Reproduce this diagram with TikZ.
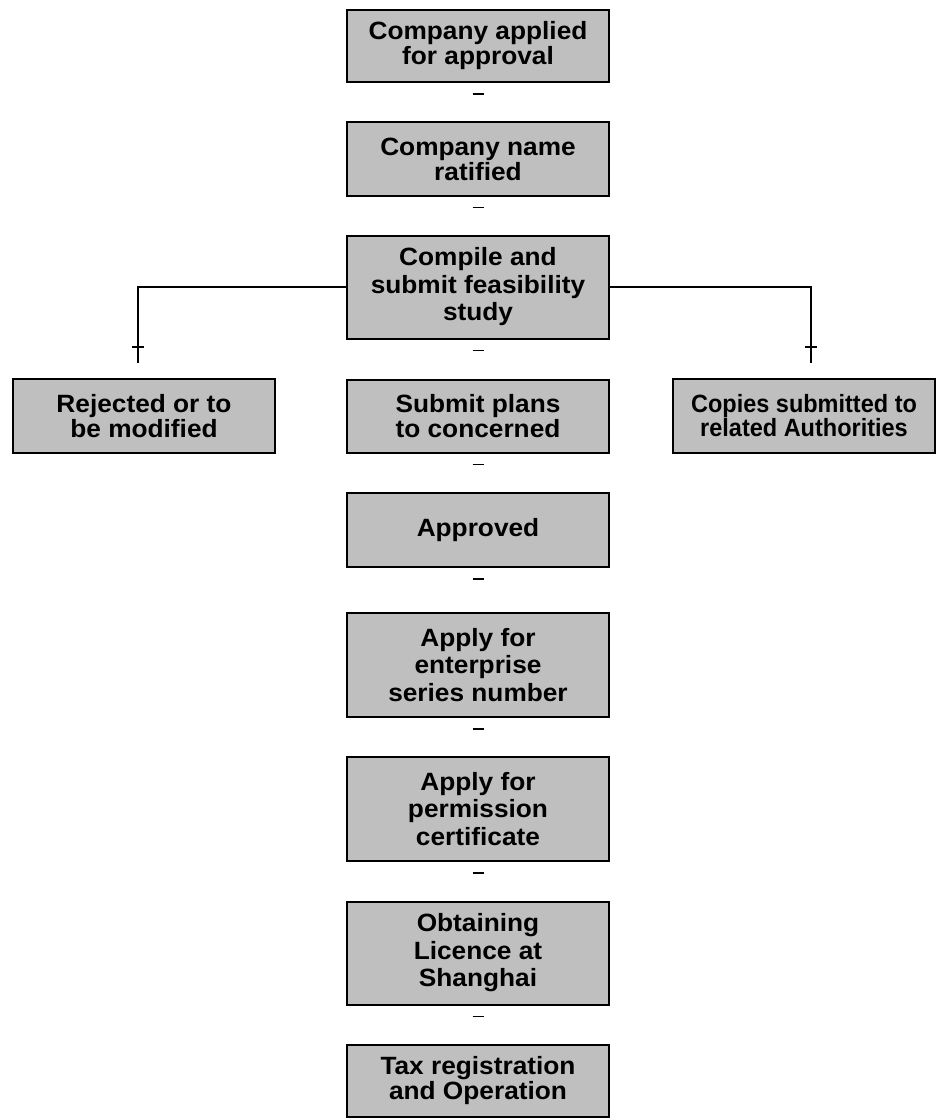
\documentclass[tikz,border=0pt]{standalone}
\usepackage{fontspec}
\setmainfont{Liberation Sans}[FakeStretch=1.05]
\newfontfamily\narrowfont{Liberation Sans}[FakeStretch=0.94]
\tikzset{
  stepbox/.style={draw, line width=2pt, fill=black!25, align=center,
    minimum width=262pt, inner sep=0pt,
    font=\fontsize{25}{25}\selectfont\bfseries},
  tallbox/.style={stepbox, font=\fontsize{25}{27.5}\selectfont\bfseries},
  link/.style={line width=1.6pt},
  notch/.style={line width=1.3pt}
}
\begin{document}
\begin{tikzpicture}[x=1pt,y=-1pt]
  \useasboundingbox (0,0) rectangle (941,1118);
  \node[stepbox, minimum height=72pt] (apply) at (478,46) {Company applied\\for approval};
  \node[stepbox, minimum height=73pt] (ratified) at (478,159) {Company name\\ratified};
  \node[tallbox, minimum height=103pt] (study) at (478,287) {Compile and\\submit feasibility\\study};
  \node[stepbox, minimum height=73pt] (plans) at (478,416) {Submit plans\\to concerned};
  \node[stepbox, minimum height=74pt] (rejected) at (144,416) {Rejected or to\\be modified};
  \node[stepbox, minimum height=74pt, font=\fontsize{25}{24}\narrowfont\bfseries] (copies) at (804,416) {Copies submitted to\\related Authorities};
  \node[stepbox, minimum height=74pt] (approved) at (478,530) {Approved};
  \node[tallbox, minimum height=104pt] (enterprise) at (478,665) {Apply for\\enterprise\\series number};
  \node[tallbox, minimum height=104pt] (permission) at (478,809) {Apply for\\permission\\certificate};
  \node[tallbox, minimum height=103pt] (licence) at (478,953) {Obtaining\\Licence at\\Shanghai};
  \node[stepbox, minimum height=72pt] (tax) at (478,1081) {Tax registration\\and Operation};

  % branches off the feasibility study
  \coordinate (rejend) at (138,363);
  \coordinate (copend) at (811,363);
  \draw[link] (study.west) -| (rejend);
  \draw[link] (study.east) -| (copend);
  \draw[notch] (rejend) ++(-6,-16) -- ++(12,0);
  \draw[notch] (copend) ++(-6,-16) -- ++(12,0);

  % marks below the main boxes
  \draw[notch] (apply.south) ++(-5.5,11) -- ++(11,0);
  \draw[notch] (ratified.south) ++(-5.5,11) -- ++(11,0);
  \draw[notch] (study.south) ++(-5.5,11) -- ++(11,0);
  \draw[notch] (plans.south) ++(-5.5,11) -- ++(11,0);
  \draw[notch] (approved.south) ++(-5.5,11) -- ++(11,0);
  \draw[notch] (enterprise.south) ++(-5.5,11) -- ++(11,0);
  \draw[notch] (permission.south) ++(-5.5,11) -- ++(11,0);
  \draw[notch] (licence.south) ++(-5.5,11) -- ++(11,0);
\end{tikzpicture}
\end{document}
